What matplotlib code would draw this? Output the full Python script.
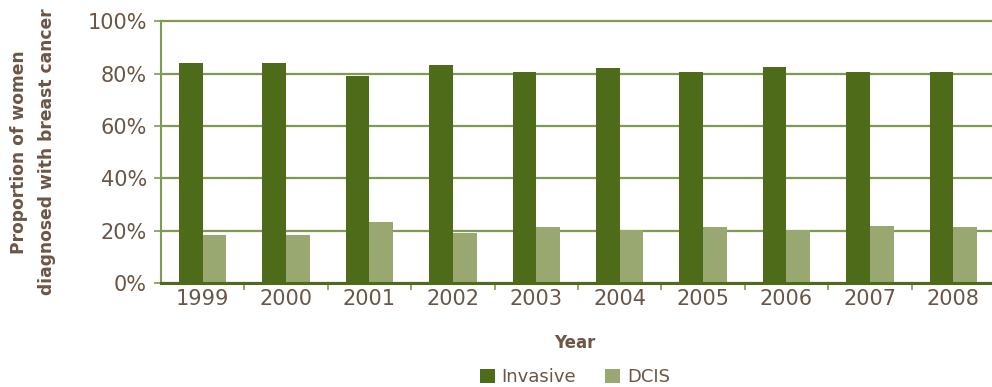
import matplotlib
matplotlib.use("Agg")
import matplotlib.pyplot as plt
import numpy as np
from matplotlib.ticker import FixedLocator, PercentFormatter

years = ["1999", "2000", "2001", "2002", "2003", "2004", "2005", "2006", "2007", "2008"]
invasive = [84.1, 84.1, 79.2, 83.4, 80.7, 82.2, 80.7, 82.6, 80.7, 80.7]
dcis = [18.4, 18.4, 23.3, 19.1, 21.4, 20.1, 21.4, 20.1, 21.8, 21.4]

c_inv = "#4e6b1a"
c_dcis = "#98a870"
c_grid = "#7f9a52"
c_text = "#6b5646"

plt.rcParams["font.family"] = ["DejaVu Sans"]

fig = plt.figure(figsize=(9.92, 3.87), dpi=100)
ax = fig.add_axes([161 / 992, 1 - 283 / 387, 1 - 161 / 992 + 0.003, (283 - 21.4) / 387])

x = np.arange(len(years))
w = 0.285
ax.bar(x - w / 2, invasive, width=w, color=c_inv, label="Invasive", zorder=3)
ax.bar(x + w / 2, dcis, width=w, color=c_dcis, label="DCIS", zorder=3)

ax.set_xlim(-0.5, len(years) - 0.5)
ax.set_ylim(0, 100)
ax.set_yticks([0, 20, 40, 60, 80, 100])
ax.yaxis.set_major_formatter(PercentFormatter(decimals=0))
ax.yaxis.grid(True, color=c_grid, linewidth=1.6, zorder=1)
for gl in ax.get_ygridlines():
    gl.set_clip_on(False)
ax.set_axisbelow(True)

ax.set_xticks(x)
ax.set_xticklabels(years)
ax.xaxis.set_minor_locator(FixedLocator(np.arange(0.5, len(years) - 0.5, 1.0)))
ax.tick_params(axis="x", which="major", length=0, pad=4, labelsize=15, labelcolor=c_text)
ax.tick_params(axis="x", which="minor", length=5, width=1.2, color=c_grid)
ax.tick_params(axis="y", length=5, width=1.2, color=c_grid, pad=5, labelsize=15, labelcolor=c_text)

for side in ("top", "right"):
    ax.spines[side].set_visible(False)
ax.spines["left"].set_color(c_grid)
ax.spines["left"].set_linewidth(1.5)
ax.spines["bottom"].set_color(c_inv)
ax.spines["bottom"].set_linewidth(2.2)
ax.spines["bottom"].set_zorder(4)

fig.text(33 / 992, 1 - 152 / 387, "Proportion of women\ndiagnosed with breast cancer",
         rotation=90, ha="center", va="center", fontsize=12.3, fontweight="bold",
         color=c_text, linespacing=1.7)
fig.text(575 / 992, 1 - 343 / 387, "Year", ha="center", va="center",
         fontsize=12, fontweight="bold", color=c_text)

fig.legend(loc="center", bbox_to_anchor=(575 / 992, 1 - 377 / 387), ncol=2, frameon=False,
           fontsize=13, labelcolor=c_text, handlelength=0.8, handleheight=0.8,
           handletextpad=0.4, columnspacing=1.6, borderaxespad=0, borderpad=0)

fig.savefig("out.png", dpi=100)
